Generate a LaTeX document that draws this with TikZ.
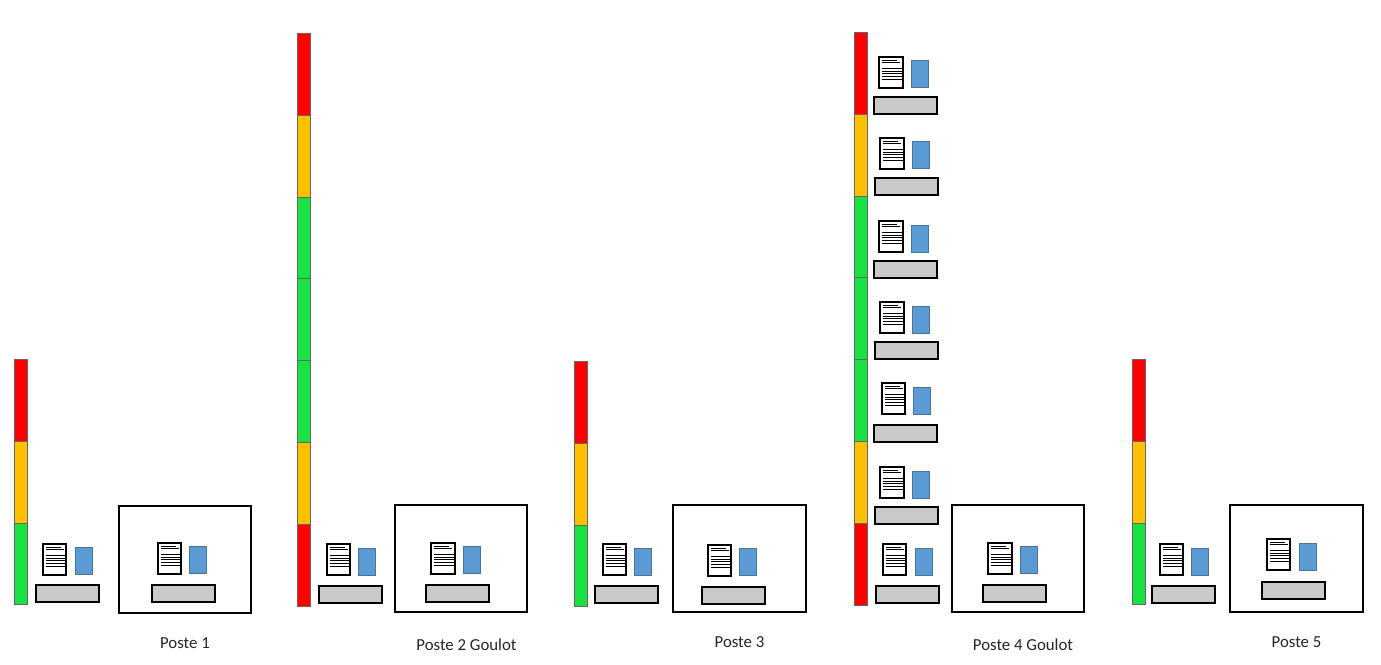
\documentclass[tikz,border=0pt]{standalone}
\usepackage{fontspec}
\setmainfont{Carlito}
\definecolor{barred}{HTML}{FF0000}
\definecolor{barorange}{HTML}{FFC000}
\definecolor{bargreen}{HTML}{17E241}
\definecolor{cardblue}{HTML}{5B9BD5}
\definecolor{cardedge}{HTML}{4F7396}
\definecolor{desk}{HTML}{C9C9C9}
\tikzset{
  x=1pt,y=-1pt,
  segment/.style={draw=black!60,line width=.8pt},
  deskbox/.style={draw=black,fill=desk,line width=2pt},
  docbox/.style={draw=black,fill=white,line width=2pt},
  cardbox/.style={draw=cardedge,fill=cardblue,line width=.8pt},
  postbox/.style={draw=black,line width=2pt},
  docline/.style={draw=black,line width=.9pt},
  caption/.style={font=\fontsize{16.8}{20}\selectfont,text=black!85,inner sep=0pt}
}
% #1 desk x, #2 desk top, #3 doc x, #4 doc top, #5 card x, #6 card top
\newcommand{\station}[6]{
  \draw[deskbox] (#1,#2-.2) rectangle ++(62.8,17);
  \draw[docbox] (#3-.5,#4) rectangle ++(23.5,31);
  \foreach \ly/\lx in {3.5/15,5.5/18,11.5/20,14.2/20,16.9/20,19.6/20,22.3/20}
    \draw[docline] (#3+2.5,#4+\ly) -- ++(\lx,0);
  \draw[cardbox] (#5,#6) rectangle ++(17,27);
}
% #1 x, #2 top, #3 colour list
\newcommand{\stack}[3]{
  \foreach \c [count=\i from 0] in {#3}
    \draw[segment,fill=\c] (#1,#2+.1+81.9*\i) rectangle ++(13.5,81.9);
}
\begin{document}
\begin{tikzpicture}
\useasboundingbox (0,0) rectangle (1381,664);
\fill[white] (0,0) rectangle (1381,664);
\stack{14}{359}{barred,barorange,bargreen}
\stack{297}{33}{barred,barorange,bargreen,bargreen,bargreen,barorange,barred}
\stack{574}{361}{barred,barorange,bargreen}
\stack{854}{32}{barred,barorange,bargreen,bargreen,bargreen,barorange,barred}
\stack{1132}{359}{barred,barorange,bargreen}
\draw[postbox] (119,506) rectangle (251,613);
\draw[postbox] (395,505) rectangle (527,612);
\draw[postbox] (673,505) rectangle (806,612);
\draw[postbox] (952,505) rectangle (1084,612);
\draw[postbox] (1230,505) rectangle (1363,612);
\station{36}{585.5}{43}{544}{75}{547}
\station{152}{585}{158}{543}{189}{546}
\station{319}{586}{327}{544}{358.5}{548}
\station{426}{585}{431.5}{543}{463}{546}
\station{595}{586}{603}{544}{634.5}{548}
\station{702}{587}{708}{545}{739.5}{548}
\station{874}{97}{879.5}{57}{911}{60}
\station{875}{178}{880.5}{138}{912}{141}
\station{874}{261}{879.5}{221}{911}{225}
\station{875}{342}{880.5}{302}{912}{306}
\station{874}{425.5}{882}{383}{913.5}{387}
\station{875}{507.5}{880.5}{467}{912}{471}
\station{876}{586}{883}{544}{915}{548}
\station{983}{585}{988.5}{543}{1020}{546}
\station{1152}{586}{1160}{544}{1191.5}{548}
\station{1262}{582}{1267}{539}{1299}{543}
\node[caption] (p1) at (185,643) {Poste 1};
\node[caption] (p2) at (466.5,645) {Poste 2 Goulot};
\node[caption] (p3) at (739.5,642) {Poste 3};
\node[caption] (p4) at (1023,645) {Poste 4 Goulot};
\node[caption] (p5) at (1296.5,642) {Poste 5};
\end{tikzpicture}
\end{document}
